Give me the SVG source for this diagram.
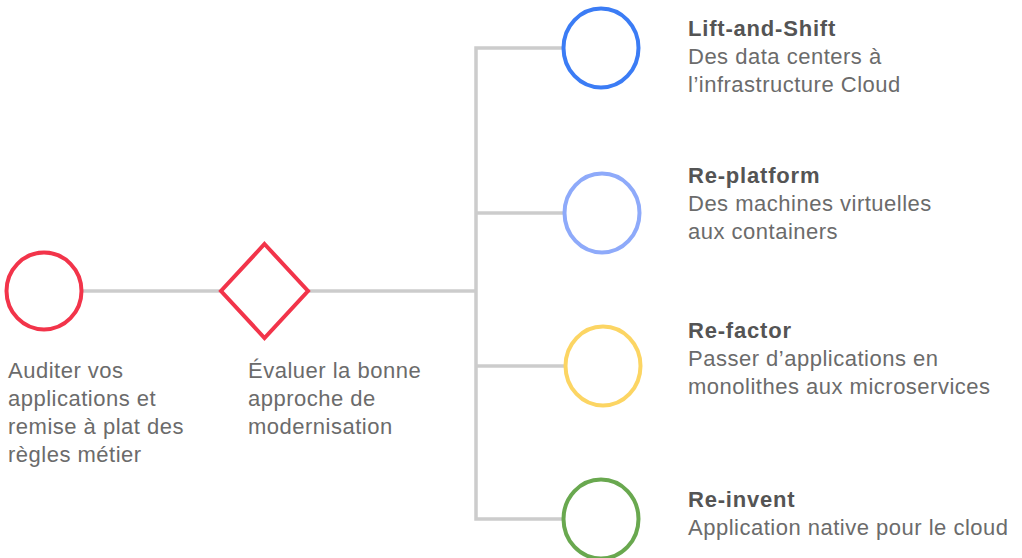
<svg xmlns="http://www.w3.org/2000/svg" width="1022" height="558" viewBox="0 0 1022 558">
<style>
.conn{stroke:#cccccc;stroke-width:3.5;fill:none;stroke-linecap:butt}
.node{fill:#ffffff;stroke-width:4}
.t{font-family:"Liberation Sans",Arial,sans-serif;font-size:22px;fill:#6b6b6b;letter-spacing:0.5px}
.b{font-family:"Liberation Sans",Arial,sans-serif;font-size:22px;font-weight:bold;fill:#545454;letter-spacing:0.8px}
</style>
<rect width="1022" height="558" fill="#ffffff"/>
<g id="connectors">
<line class="conn" x1="81" y1="291" x2="222" y2="291"/>
<line class="conn" x1="307" y1="291" x2="476" y2="291"/>
<polyline class="conn" points="563,48 476,48 476,519 563,519"/>
<line class="conn" x1="476" y1="213" x2="565" y2="213"/>
<line class="conn" x1="476" y1="366" x2="566" y2="366"/>
</g>
<g id="audit">
<ellipse class="node" cx="44" cy="291" rx="37.5" ry="38.5" stroke="#f2344a" stroke-width="3.5"/>
<text class="t" x="8" y="378">Auditer vos</text>
<text class="t" x="8" y="406">applications et</text>
<text class="t" x="8" y="434">remise à plat des</text>
<text class="t" x="8" y="462">règles métier</text>
</g>
<g id="evaluer">
<polygon class="node" points="264.5,244 308,291 264.5,338 221,291" stroke="#f2344a" stroke-width="3.5"/>
<text class="t" x="248" y="378">Évaluer la bonne</text>
<text class="t" x="248" y="406">approche de</text>
<text class="t" x="248" y="434">modernisation</text>
</g>
<g id="lift">
<ellipse class="node" cx="601" cy="48" rx="37.5" ry="39.5" stroke="#3b7cf5"/>
<text class="b" x="688" y="36">Lift-and-Shift</text>
<text class="t" x="688" y="64">Des data centers à</text>
<text class="t" x="688" y="92">l’infrastructure Cloud</text>
</g>
<g id="replatform">
<ellipse class="node" cx="602" cy="213" rx="37.5" ry="39.5" stroke="#8eaafa"/>
<text class="b" x="688" y="183">Re-platform</text>
<text class="t" x="688" y="211">Des machines virtuelles</text>
<text class="t" x="688" y="239">aux containers</text>
</g>
<g id="refactor">
<ellipse class="node" cx="603" cy="366" rx="37.5" ry="39.5" stroke="#fcd563"/>
<text class="b" x="688" y="338">Re-factor</text>
<text class="t" x="688" y="366">Passer d’applications en</text>
<text class="t" x="688" y="394">monolithes aux microservices</text>
</g>
<g id="reinvent">
<ellipse class="node" cx="601" cy="519" rx="37.5" ry="39.5" stroke="#69a84f"/>
<text class="b" x="688" y="507">Re-invent</text>
<text class="t" x="688" y="535">Application native pour le cloud</text>
</g>
</svg>
